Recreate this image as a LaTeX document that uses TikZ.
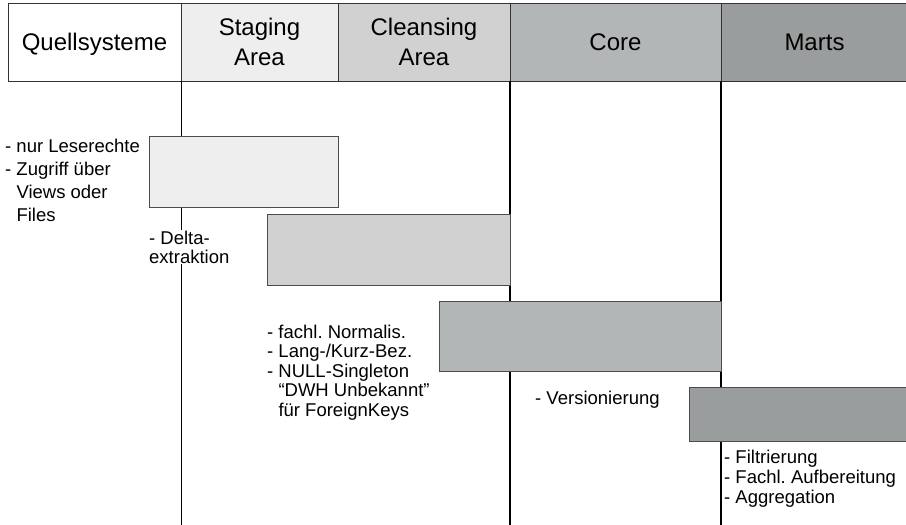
\documentclass[tikz,border=0pt]{standalone}
\usepackage{fontspec}
\setmainfont{Liberation Sans}
\usetikzlibrary{positioning}

\definecolor{stagegray}{HTML}{EEEEEE}
\definecolor{cleansegray}{HTML}{D0D1D0}
\definecolor{coregray}{HTML}{B3B6B7}
\definecolor{martsgray}{HTML}{9A9D9D}

\begin{document}
\frenchspacing
\begin{tikzpicture}[
    x=1pt, y=-1pt,
    cell/.style={draw=black!80, line width=0.9pt, minimum height=78pt, inner sep=0pt, outer sep=0pt,
        align=center, font=\fontsize{24}{29.5}\selectfont},
    layer/.style={draw=black!70, line width=0.9pt, inner sep=0pt, outer sep=0pt, anchor=north west},
    note/.style={align=left, anchor=base west, fill=white, inner sep=1pt},
    thinline/.style={line width=1pt},
    thickline/.style={line width=1.8pt}
]
\useasboundingbox (0,0) rectangle (906,525);

\node[cell, fill=white, minimum width=173pt, anchor=north west, text depth=0pt] (quell) at (8,3) {Quellsysteme};
\node[cell, fill=stagegray, minimum width=157pt, right=0pt of quell] (stage) {Staging\\Area};
\node[cell, fill=cleansegray, minimum width=172pt, right=0pt of stage] (cleanse) {Cleansing\\Area};
\node[cell, fill=coregray, minimum width=211pt, right=0pt of cleanse] (core) {Core};
\node[cell, fill=martsgray, minimum width=187pt, right=0pt of core] (marts) {Marts};

\coordinate (stageEnd) at (181,525);
\coordinate (coreEnd) at (510,525);
\coordinate (martsEnd) at (721,525);
\draw[thinline] (quell.south east) -- (stageEnd);
\draw[thickline] (cleanse.south east) -- (coreEnd);
\draw[thickline] (core.south east) -- (martsEnd);

\node[layer, fill=stagegray, minimum width=189pt, minimum height=71pt] (stageBox) at (149,136) {};
\node[layer, fill=cleansegray, minimum width=243pt, minimum height=71pt] (cleanseBox) at (267,214) {};
\node[layer, fill=coregray, minimum width=282pt, minimum height=70pt] (coreBox) at (439,301) {};
\node[layer, fill=martsgray, minimum width=219pt, minimum height=54pt] (martsBox) at (689,387) {};

\node[note, font=\fontsize{18.5}{22.7}\selectfont] (quellNote) at (4,221)
    {- nur Leserechte\\- Zugriff über\\\phantom{- }Views oder\\\phantom{- }Files};
\node[note, font=\fontsize{18.5}{19}\selectfont] (stageNote) at (148,263)
    {- Delta-\\extraktion};
\node[note, font=\fontsize{18.5}{19.5}\selectfont] (cleanseNote) at (266,416)
    {- fachl. Normalis.\\- Lang-/Kurz-Bez.\\- NULL-Singleton\\\phantom{- }“DWH Unbekannt”\\\phantom{- }für ForeignKeys};
\node[note, font=\fontsize{18.5}{20}\selectfont] (coreNote) at (534,404)
    {- Versionierung};
\node[note, font=\fontsize{18.5}{20}\selectfont] (martsNote) at (723,503)
    {- Filtrierung\\- Fachl. Aufbereitung\\- Aggregation};
\end{tikzpicture}
\end{document}
